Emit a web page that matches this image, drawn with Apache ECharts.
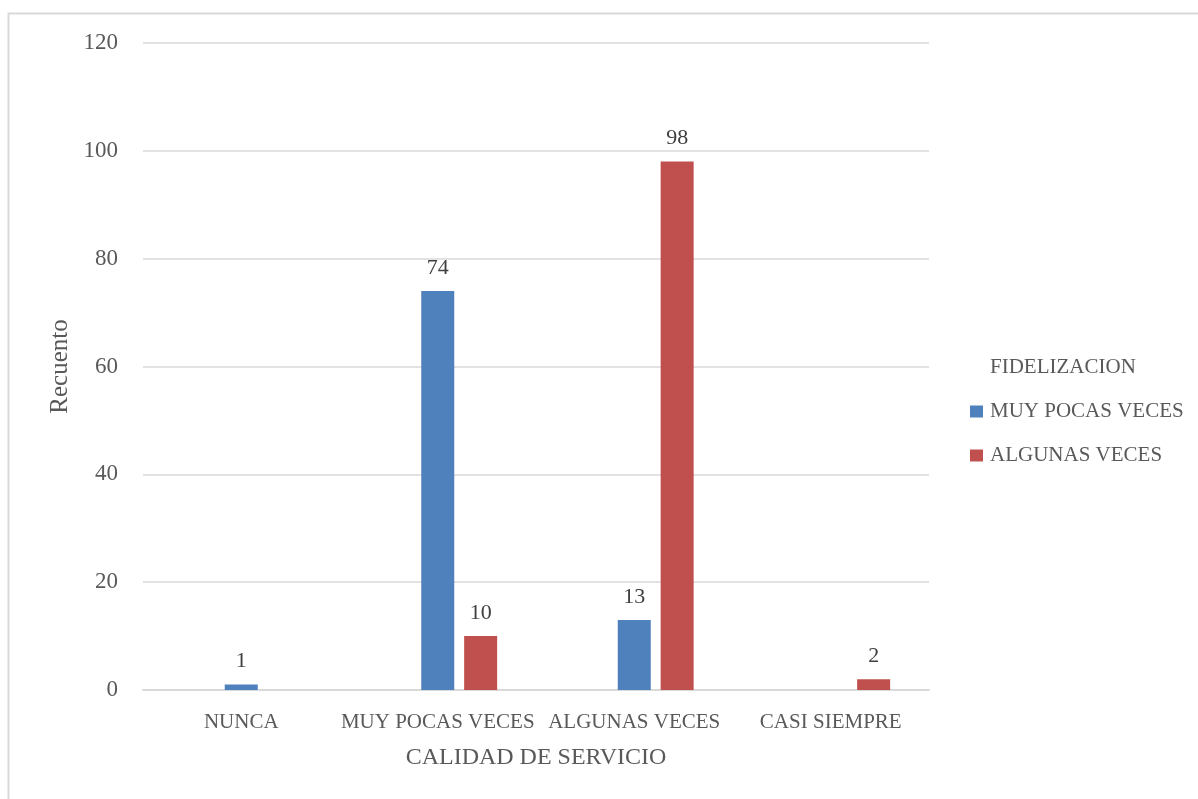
<!DOCTYPE html>
<html>
<head>
<meta charset="utf-8">
<script src="https://cdn.jsdelivr.net/npm/echarts@6/dist/echarts.min.js"></script>
<style>
  html, body { margin: 0; padding: 0; background: #fff; }
  #chart { width: 1198px; height: 799px; }
</style>
</head>
<body>
<div id="chart"></div>
<script>
// Counts of "Calidad de servicio" by "Fidelizacion" level
const categories = ['NUNCA', 'MUY POCAS VECES', 'ALGUNAS VECES', 'CASI SIEMPRE'];
const seriesNames = ['MUY POCAS VECES', 'ALGUNAS VECES'];
const muyPocasVeces = [1, 74, 13, null];
const algunasVeces = [null, 10, 98, 2];
const emptySlot = [null, null, null, null]; // level with no responses, keeps its slot in each group
const yTicks = { min: 0, max: 120, interval: 20 };

const FONT = '"Liberation Serif", "DejaVu Serif", serif';
const TEXT = '#595959';

const chart = echarts.init(document.getElementById('chart'));

const labelStyle = {
  show: true,
  position: 'top',
  distance: 12,
  color: '#404040',
  fontFamily: FONT,
  fontSize: 22
};

chart.setOption({
  animation: false,
  textStyle: { fontFamily: FONT },
  graphic: [{
    type: 'rect',
    shape: { x: 8.5, y: 13.5, width: 1200, height: 800 },
    style: { fill: 'none', stroke: '#d9d9d9', lineWidth: 2 },
    silent: true
  }],
  grid: { left: 143, right: 269, top: 43, bottom: 109 },
  legend: {
    data: seriesNames,
    orient: 'vertical',
    left: 965,
    top: 396,
    itemWidth: 13,
    itemHeight: 12,
    itemGap: 23,
    icon: 'rect',
    textStyle: { color: TEXT, fontFamily: FONT, fontSize: 21, padding: [0, 0, 0, 2] }
  },
  title: {
    text: 'FIDELIZACION',
    left: 985,
    top: 352,
    textStyle: { color: TEXT, fontFamily: FONT, fontSize: 21, fontWeight: 'normal' }
  },
  xAxis: {
    type: 'category',
    data: categories,
    name: 'CALIDAD DE SERVICIO',
    nameLocation: 'middle',
    nameGap: 56,
    nameTextStyle: { color: TEXT, fontFamily: FONT, fontSize: 24 },
    axisLine: { lineStyle: { color: '#d9d9d9', width: 2 } },
    axisTick: { show: false },
    axisLabel: { color: TEXT, fontFamily: FONT, fontSize: 21, margin: 22, interval: 0 }
  },
  yAxis: {
    type: 'value',
    min: yTicks.min,
    max: yTicks.max,
    interval: yTicks.interval,
    name: 'Recuento',
    nameLocation: 'middle',
    nameGap: 70,
    nameRotate: 90,
    nameTextStyle: { color: TEXT, fontFamily: FONT, fontSize: 25 },
    axisLine: { show: false },
    axisTick: { show: false },
    axisLabel: { color: TEXT, fontFamily: FONT, fontSize: 23, margin: 25 },
    splitLine: { lineStyle: { color: '#d9d9d9', width: 1.5 } }
  },
  series: [
    {
      name: 'NUNCA',
      type: 'bar',
      data: emptySlot,
      barWidth: 33,
      barGap: '30%'
    },
    {
      name: seriesNames[0],
      type: 'bar',
      data: muyPocasVeces,
      barWidth: 33,
      barGap: '30%',
      itemStyle: { color: '#4f81bd' },
      label: labelStyle
    },
    {
      name: seriesNames[1],
      type: 'bar',
      data: algunasVeces,
      barWidth: 33,
      barGap: '30%',
      itemStyle: { color: '#c0504d' },
      label: labelStyle
    }
  ]
});
</script>
</body>
</html>
